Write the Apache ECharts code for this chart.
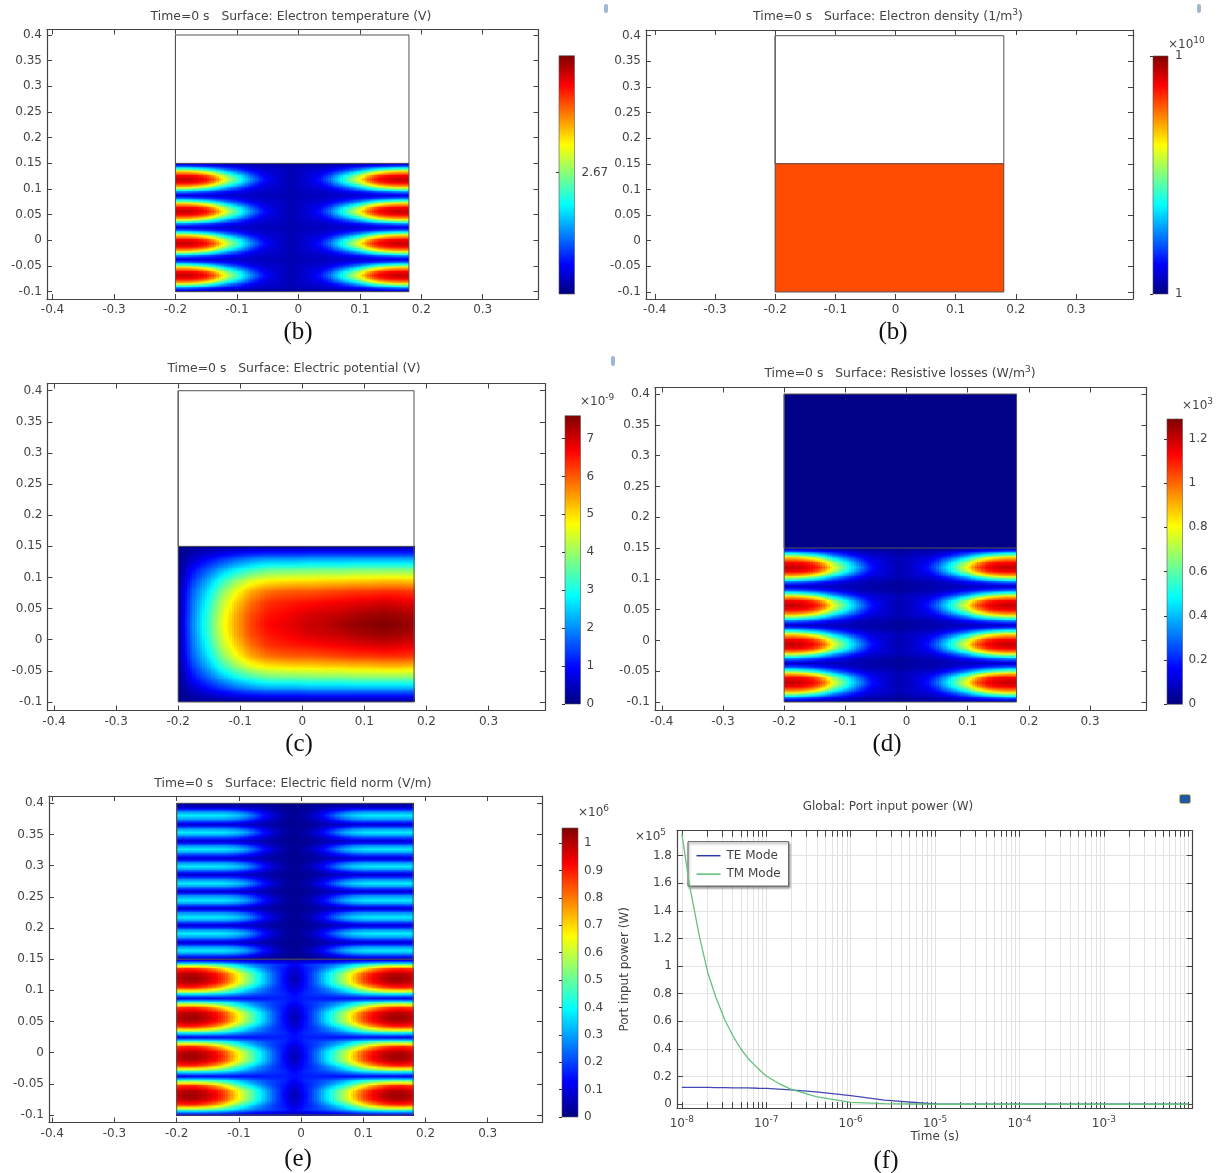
<!DOCTYPE html>
<html>
<head>
<meta charset="utf-8">
<script src="https://cdn.jsdelivr.net/npm/echarts@6/dist/echarts.min.js"></script>
<style>
  html, body { margin: 0; background: #fff; }
  #main { width: 1220px; height: 1173px; filter: blur(0.45px); }
</style>
</head>
<body>
<div id="main"></div>
<script>
// tick labels
const fieldXTicks = [-0.4, -0.3, -0.2, -0.1, 0, 0.1, 0.2, 0.3];
const fieldYTicks = [-0.1, -0.05, 0, 0.05, 0.1, 0.15, 0.2, 0.25, 0.3, 0.35, 0.4];

// geometry outline, in axis units
const outlineX = [-0.2, 0.18, 0.18, -0.2, -0.2, -0.2, 0.18];
const outlineY = [0.4, 0.4, -0.1, -0.1, 0.4, 0.15, 0.15];

// all field rows: fraction of the colour range, edge of the domain -> centre column
const edgeRow = [.03, .03, .03, .03, .03, .03, .03, .03, .03, .03, .03, .03, .03];
const tempR0 = [.07, .07, .07, .07, .07, .07, .07, .07, .07, .06, .06, .05, .05];
const tempR1 = [.30, .30, .27, .24, .20, .16, .13, .10, .08, .07, .07, .06, .05];
const tempR2 = [.65, .66, .62, .56, .46, .34, .26, .19, .13, .09, .08, .07, .05];
const tempR3 = [.87, .87, .86, .81, .70, .54, .42, .31, .20, .12, .09, .07, .05];
const tempR4 = [.93, .94, .92, .89, .81, .64, .50, .37, .25, .15, .10, .07, .05];

const lossR0 = [.05, .05, .05, .05, .05, .05, .05, .05, .05, .04, .04, .03, .03];
const lossR1 = [.28, .28, .25, .22, .18, .14, .11, .08, .06, .05, .05, .04, .03];

const normR0 = [.07, .07, .08, .08, .09, .10, .11, .12, .13, .14, .15, .15, .14];
const normR1 = [.42, .43, .43, .42, .40, .37, .32, .27, .23, .20, .18, .16, .12];
const normR2 = [.80, .82, .81, .77, .70, .60, .49, .39, .31, .24, .18, .14, .08];
const normR3 = [.91, .94, .94, .91, .86, .78, .65, .53, .42, .31, .21, .13, .06];
const normR4 = [.94, .97, .97, .94, .89, .81, .68, .55, .43, .32, .21, .12, .04];

const airEdge = [.03, .03, .03, .03, .03, .03, .03, .03, .02, .02, .02, .01, .01];
const airTrough = [.06, .06, .06, .06, .06, .06, .06, .05, .05, .04, .03, .02, .02];
const airMid = [.25, .25, .25, .25, .25, .25, .23, .19, .14, .09, .05, .03, .02];
const airPeak = [.37, .37, .37, .37, .37, .36, .34, .30, .22, .14, .08, .04, .02];

// electric potential, left -> right, not mirrored
const potRow0 = [.01, .02, .02, .02, .02, .02, .02, .02, .02, .02, .02, .02, .02, .02, .02, .02, .02];
const potRow1 = [.01, .06, .11, .15, .19, .22, .24, .24, .24, .25, .25, .25, .25, .25, .25, .25, .25];
const potRow2 = [.01, .12, .20, .28, .35, .40, .44, .45, .45, .46, .46, .46, .47, .47, .47, .47, .47];
const potRow3 = [.01, .17, .28, .40, .50, .57, .61, .62, .63, .63, .64, .64, .65, .65, .66, .66, .65];
const potRow4 = [.02, .21, .34, .49, .61, .70, .75, .77, .78, .78, .79, .80, .81, .81, .82, .82, .81];
const potRow5 = [.02, .23, .38, .55, .67, .76, .82, .84, .85, .86, .87, .88, .89, .90, .91, .90, .89];
const potRow6 = [.02, .24, .41, .58, .71, .80, .85, .87, .89, .91, .92, .93, .95, .96, .97, .96, .95];
const potRow7 = [.02, .25, .42, .60, .72, .81, .87, .89, .91, .93, .94, .96, .98, .99, 1.0, .99, .97];

const densityLevel = [[.8, .8], [.8, .8]];
const lossAirLevel = [[.01, .01], [.01, .01]];

// one line plot: port input power against time
const logTime = [-8, -7.91, -7.79, -7.69, -7.6, -7.49, -7.39, -7.3, -7.22, -7.1, -7, -6.85, -6.71, -6.41, -6, -5.6, -5, -4, -3, -2];
const teMode = [.123, .123, .122, .122, .121, .12, .119, .118, .118, .116, .115, .11, .104, .09, .063, .03, .002, 0, 0, 0];
const tmMode = [1.96, 1.59, 1.21, .948, .78, .61, .49, .40, .335, .26, .205, .15, .109, .055, .014, .004, 0, 0, 0, 0];
const logDecades = [-8, -7, -6, -5, -4, -3];
const mantissas = [1, 2, 3, 4, 5, 6, 7, 8, 9];
const powerTicks = [0, 0.2, 0.4, 0.6, 0.8, 1, 1.2, 1.4, 1.6, 1.8];

// colour bar scales
const tempBarTicks = [2.67];
const densityBarTicks = [0, 1];
const potBarTicks = [0, 1, 2, 3, 4, 5, 6, 7];
const lossBarTicks = [0, 0.2, 0.4, 0.6, 0.8, 1, 1.2];
const normBarTicks = [0, 0.1, 0.2, 0.3, 0.4, 0.5, 0.6, 0.7, 0.8, 0.9, 1];

const jetStops = [[0, 0, 0, 127], [.125, 0, 0, 255], [.375, 0, 255, 255], [.625, 255, 255, 0], [.875, 255, 0, 0], [1, 127, 0, 0]];

const FONT = '"DejaVu Sans"';
const TEXT = '#444';

function jet(v) {
  v = Math.max(0, Math.min(1, v));
  for (let k = 1; k < jetStops.length; k++) {
    const a = jetStops[k - 1], b = jetStops[k];
    if (v <= b[0]) {
      const t = (v - a[0]) / (b[0] - a[0]);
      return 'rgb(' + [1, 2, 3].map(c => Math.round(a[c] + (b[c] - a[c]) * t)).join(',') + ')';
    }
  }
  return 'rgb(127,0,0)';
}

const mirror = rows => rows.map(r => r.concat(r.slice(0, -1).reverse()));

const lobes = (R0, R1, R2, R3, R4) => {
  const band = [R1, R2, R3, R4, R3, R2, R1];
  return [edgeRow, ...band, R0, ...band, R0, ...band, R0, ...band, edgeRow];
};

const tempField = mirror(lobes(tempR0, tempR1, tempR2, tempR3, tempR4));
const lossField = mirror(lobes(lossR0, lossR1, tempR2, tempR3, tempR4));
const normField = mirror(lobes(normR0, normR1, normR2, normR3, normR4));
const airRows = [airEdge, airTrough, airMid];
for (let k = 0; k < 9; k++) airRows.push(airPeak, airMid, airTrough, airMid);
airRows.length = 37;
airRows.push(airEdge);
const airField = mirror(airRows);
const potField = [potRow0, potRow1, potRow2, potRow3, potRow4, potRow5, potRow6, potRow7, potRow6, potRow5, potRow4, potRow3, potRow2, potRow1, potRow0];

// plot layout: frame in pixels, axis limits
const panels = [
  { box: [47, 29.5, 538.5, 299], x: [-0.409, 0.3908], y: [-0.1142, 0.4107], regions: [[tempField, 0.15, -0.1]], bar: [559, 55.7, 15.5, 238.3], barRange: [2.62, 2.718], barTicks: tempBarTicks, barMargin: 7 },
  { box: [646, 30, 1133, 299], x: [-0.4146, 0.3947], y: [-0.1137, 0.4111], regions: [[densityLevel, 0.15, -0.1]], bar: [1153, 56, 15, 238], barRange: [0, 1], barTicks: densityBarTicks, barMargin: 7, barFormat: () => '1' },
  { box: [47.5, 383.5, 545, 710.5], x: [-0.4105, 0.391], y: [-0.1137, 0.4116], regions: [[potField, 0.15, -0.1]], bar: [565, 415.7, 15.5, 288.3], barRange: [0, 7.6], barTicks: potBarTicks, barMargin: 6 },
  { box: [655, 387.5, 1146.5, 710.5], x: [-0.4111, 0.3924], y: [-0.1138, 0.4106], regions: [[lossAirLevel, 0.4, 0.15], [lossField, 0.15, -0.1]], bar: [1167, 419, 15.5, 285.3], barRange: [0, 1.29], barTicks: lossBarTicks, barMargin: 6 },
  { box: [49, 796, 542, 1122.5], x: [-0.4053, 0.3873], y: [-0.112, 0.4117], regions: [[airField, 0.4, 0.15], [normField, 0.15, -0.1]], bar: [562, 828, 16, 289], barRange: [0, 1.055], barTicks: normBarTicks, barMargin: 6 }
];

const grid = [], xAxis = [], yAxis = [], series = [];

function frameAxes(box, xr, yr, xTicks, yTicks, opt) {
  opt = opt || {};
  const g = grid.length;
  grid.push({ left: box[0], top: box[1], width: box[2] - box[0], height: box[3] - box[1] });
  const line = { onZero: false, lineStyle: { color: '#444', width: 1.2 } };
  const split = { show: !!opt.gridLines, lineStyle: { color: '#e3e3e3', width: 1 } };
  const tick = vals => ({ customValues: vals, inside: true, length: opt.tickLength || 5, lineStyle: { color: '#444' } });
  const label = { color: TEXT, fontFamily: FONT, fontSize: 12, margin: 5 };
  xAxis.push(Object.assign({
    type: 'value', gridIndex: g, min: xr[0], max: xr[1], position: 'bottom',
    axisLine: line, axisTick: tick(xTicks), splitLine: split,
    axisLabel: Object.assign({ customValues: opt.xLabels || xTicks }, label, opt.xLabelStyle)
  }, opt.xExtra));
  xAxis.push({
    type: 'value', gridIndex: g, min: xr[0], max: xr[1], position: 'top',
    axisLine: line, axisTick: tick(xTicks), splitLine: { show: false }, axisLabel: { show: false }
  });
  yAxis.push(Object.assign({
    type: 'value', gridIndex: g, min: yr[0], max: yr[1], position: 'left',
    axisLine: line, axisTick: tick(yTicks), splitLine: split,
    axisLabel: Object.assign({ customValues: yTicks }, label)
  }, opt.yExtra));
  yAxis.push({
    type: 'value', gridIndex: g, min: yr[0], max: yr[1], position: 'right',
    axisLine: line, axisTick: tick(yTicks), splitLine: { show: false }, axisLabel: { show: false }
  });
  return xAxis.length - 2;
}

// one mesh cell, shaded like a surface plot: thin strips with a vertical gradient
function renderCell(params, api) {
  const a = api.coord([api.value(0), api.value(2)]);
  const b = api.coord([api.value(1), api.value(3)]);
  const tl = api.value(4), tr = api.value(5), bl = api.value(6), br = api.value(7);
  const w = b[0] - a[0];
  const n = Math.max(1, Math.ceil(w / 2.5));
  const y0 = Math.floor(a[1]), y1 = Math.ceil(b[1]);
  const children = [];
  for (let s = 0; s < n; s++) {
    const f = (s + 0.5) / n;
    const vTop = tl + (tr - tl) * f, vBot = bl + (br - bl) * f;
    const stops = [0, .25, .5, .75, 1].map(t => ({ offset: t, color: jet(vTop + (vBot - vTop) * t) }));
    const x0 = Math.floor(a[0] + w * s / n), x1 = Math.ceil(a[0] + w * (s + 1) / n);
    children.push({
      type: 'rect',
      shape: { x: x0, y: y0, width: x1 - x0, height: y1 - y0 },
      style: { fill: new echarts.graphic.LinearGradient(0, 0, 0, 1, stops) }
    });
  }
  return { type: 'group', children };
}

function regionCells(m, yTop, yBot) {
  const cells = [];
  const cols = m[0].length - 1, rows = m.length - 1;
  const dx = (0.18 + 0.2) / cols, dy = (yTop - yBot) / rows;
  for (let j = 0; j < rows; j++) {
    for (let i = 0; i < cols; i++) {
      cells.push([-0.2 + i * dx, -0.2 + (i + 1) * dx, yTop - j * dy, yTop - (j + 1) * dy,
        m[j][i], m[j][i + 1], m[j + 1][i], m[j + 1][i + 1]]);
    }
  }
  return cells;
}

panels.forEach(p => {
  const ax = frameAxes(p.box, p.x, p.y, fieldXTicks, fieldYTicks);
  p.regions.forEach(r => {
    series.push({
      type: 'custom', xAxisIndex: ax, yAxisIndex: ax, renderItem: renderCell, silent: true,
      encode: { x: [0, 1], y: [2, 3] }, data: regionCells(r[0], r[1], r[2]), animation: false, z: 2
    });
  });
  series.push({
    type: 'line', xAxisIndex: ax, yAxisIndex: ax, symbol: 'none', silent: true, animation: false, z: 3,
    lineStyle: { color: '#555', width: 1 }, data: outlineX.map((x, i) => [x, outlineY[i]])
  });

  // colour bar
  const g = grid.length;
  grid.push({ left: p.bar[0], top: p.bar[1], width: p.bar[2], height: p.bar[3] });
  xAxis.push({ type: 'value', gridIndex: g, min: 0, max: 1, show: false });
  yAxis.push({
    type: 'value', gridIndex: g, min: p.barRange[0], max: p.barRange[1], position: 'right',
    axisLine: { show: false }, splitLine: { show: false },
    axisTick: { customValues: p.barTicks, inside: true, length: 3, lineStyle: { color: '#333' } },
    axisLabel: { customValues: p.barTicks, color: TEXT, fontFamily: FONT, fontSize: 12, margin: p.barMargin, formatter: p.barFormat }
  });
  series.push({
    type: 'custom', xAxisIndex: xAxis.length - 1, yAxisIndex: yAxis.length - 1, silent: true, animation: false, z: 1,
    encode: { x: [0, 1], y: [2, 3] }, data: [[0, 1, p.barRange[1], p.barRange[0]]],
    renderItem: (params, api) => {
      const a = api.coord([api.value(0), api.value(2)]);
      const b = api.coord([api.value(1), api.value(3)]);
      return {
        type: 'rect', shape: { x: a[0], y: a[1], width: b[0] - a[0], height: b[1] - a[1] },
        style: {
          stroke: '#555', lineWidth: 0.6,
          fill: new echarts.graphic.LinearGradient(0, 0, 0, 1, jetStops.slice().reverse().map(s => ({ offset: 1 - s[0], color: jet(s[0]) })))
        }
      };
    }
  });
});

// port input power plot
const logTicks = [];
logDecades.forEach(d => mantissas.forEach(m => logTicks.push(d + Math.log10(m))));
logTicks.push(-2);
const powerAx = frameAxes([677, 830.7, 1192.6, 1108], [-8.057, -1.95], [-0.027, 1.98], logTicks, powerTicks, {
  gridLines: true,
  tickLength: 6,
  xLabels: logDecades,
  xLabelStyle: {
    margin: 7,
    formatter: v => '{n|10}{s|' + v + '}',
    rich: {
      n: { color: TEXT, fontFamily: FONT, fontSize: 12, padding: [3, 0, 0, 0] },
      s: { color: TEXT, fontFamily: FONT, fontSize: 9, verticalAlign: 'top', padding: [0, 0, 4, 0] }
    }
  },
  xExtra: { name: 'Time (s)', nameLocation: 'middle', nameGap: 21, nameTextStyle: { color: TEXT, fontFamily: FONT, fontSize: 12 } },
  yExtra: { name: 'Port input power (W)', nameLocation: 'middle', nameGap: 46, nameTextStyle: { color: TEXT, fontFamily: FONT, fontSize: 12 } }
});
series.push({
  name: 'TE Mode', type: 'line', xAxisIndex: powerAx, yAxisIndex: powerAx, symbol: 'none', animation: false, z: 4,
  lineStyle: { color: '#4348b4', width: 1.3 }, itemStyle: { color: '#2f3aa8' }, data: logTime.map((t, i) => [t, teMode[i]])
});
series.push({
  name: 'TM Mode', type: 'line', xAxisIndex: powerAx, yAxisIndex: powerAx, symbol: 'none', animation: false, z: 5,
  lineStyle: { color: '#66c17a', width: 1.3 }, itemStyle: { color: '#5cbf72' }, data: logTime.map((t, i) => [t, tmMode[i]])
});

const supRich = size => ({
  n: { color: TEXT, fontFamily: FONT, fontSize: size, padding: [3, 0, 0, 0] },
  s: { color: TEXT, fontFamily: FONT, fontSize: 9, verticalAlign: 'top', padding: [0, 0, 4, 0] }
});
const titleAt = (text, left, top, align, size) => ({
  text, left, top, textAlign: align || 'center', padding: 0,
  textStyle: { color: TEXT, fontFamily: FONT, fontSize: size || 12.4, fontWeight: 'normal', rich: supRich(size || 12.4) }
});
const captionAt = (text, left, top) => ({
  text, left, top, textAlign: 'center', padding: 0,
  textStyle: { color: '#111', fontFamily: '"Liberation Serif"', fontSize: 25, fontWeight: 'normal' }
});

const title = [
  titleAt('Time=0 s   Surface: Electron temperature (V)', 291, 11),
  titleAt('{n|Time=0 s   Surface: Electron density (1/m}{s|3}{n|)}', 888, 8),
  titleAt('Time=0 s   Surface: Electric potential (V)', 294, 363),
  titleAt('{n|Time=0 s   Surface: Resistive losses (W/m}{s|3}{n|)}', 900, 365),
  titleAt('Time=0 s   Surface: Electric field norm (V/m)', 293, 778),
  titleAt('Global: Port input power (W)', 888, 801, 'center', 12),
  titleAt('{n|×10}{s|10}', 1168, 36, 'left', 12),
  titleAt('{n|×10}{s|-9}', 580, 393, 'left', 12),
  titleAt('{n|×10}{s|3}', 1182, 397, 'left', 12),
  titleAt('{n|×10}{s|6}', 578, 804, 'left', 12),
  titleAt('{n|×10}{s|5}', 635, 828, 'left', 12),
  captionAt('(b)', 298, 320),
  captionAt('(b)', 893, 320),
  captionAt('(c)', 299, 732),
  captionAt('(d)', 887, 732),
  captionAt('(e)', 298, 1147),
  captionAt('(f)', 886, 1149)
];

const chart = echarts.init(document.getElementById('main'));
chart.setOption({
  animation: false,
  backgroundColor: '#fff',
  title,
  grid,
  xAxis,
  yAxis,
  series,
  legend: {
    data: ['TE Mode', 'TM Mode'],
    left: 688, top: 841.7,
    orient: 'vertical',
    align: 'left',
    icon: 'rect',
    padding: [8, 8, 6, 8.5],
    itemWidth: 24, itemHeight: 1.5, itemGap: 6.4,
    backgroundColor: '#fff',
    borderColor: '#555', borderWidth: 1,
    shadowColor: 'rgba(0,0,0,0.35)', shadowBlur: 2, shadowOffsetX: 1, shadowOffsetY: 2,
    textStyle: { color: TEXT, fontFamily: FONT, fontSize: 12, padding: [0, 0, 0, 1] }
  },
  graphic: [
    { type: 'rect', left: 1179, top: 794, shape: { width: 11, height: 9, r: 2 }, style: { fill: '#1f5aa0', stroke: '#c9b86a', lineWidth: 1 } },
    { type: 'rect', left: 604, top: 4, shape: { width: 4, height: 9, r: 2 }, style: { fill: '#9fb6d4' } },
    { type: 'rect', left: 1197, top: 4, shape: { width: 4, height: 9, r: 2 }, style: { fill: '#9fb6d4' } },
    { type: 'rect', left: 611, top: 356, shape: { width: 4, height: 10, r: 2 }, style: { fill: '#9fb6d4' } }
  ]
});
</script>
</body>
</html>
